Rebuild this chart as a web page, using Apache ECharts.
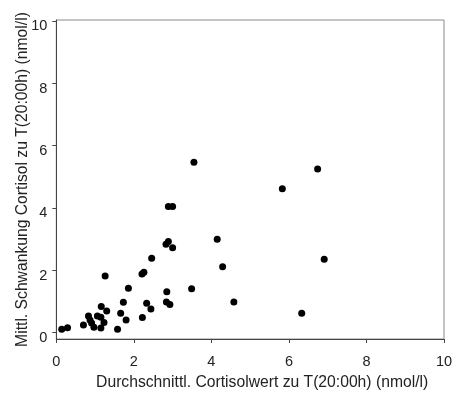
<!DOCTYPE html>
<html>
<head>
<meta charset="utf-8">
<script src="https://cdn.jsdelivr.net/npm/echarts@6/dist/echarts.min.js"></script>
<style>
  html, body { margin: 0; padding: 0; background: #fff; }
  #chart { width: 454px; height: 396px; }
</style>
</head>
<body>
<div id="chart"></div>
<script>
// Mean evening cortisol (x) vs. mean fluctuation (y), nmol/l
const meanCortisol = [
  0.14, 0.29, 0.70, 0.83, 0.87, 0.91, 0.97, 1.06, 1.15, 1.16,
  1.30, 1.23, 1.15, 1.26, 1.58, 1.66, 1.73, 1.80, 1.86, 2.22,
  2.21, 2.26, 2.33, 2.44, 2.46, 2.85, 2.84, 2.93, 2.83, 2.89,
  3.00, 2.89, 3.00, 3.55, 4.15, 4.29, 3.49, 4.58, 5.83, 6.74,
  6.91, 6.33
];
const meanFluctuation = [
  0.10, 0.15, 0.24, 0.53, 0.40, 0.30, 0.17, 0.53, 0.49, 0.83,
  0.69, 0.32, 0.14, 1.81, 0.10, 0.62, 0.97, 0.40, 1.42, 0.48,
  1.88, 1.93, 0.94, 0.75, 2.38, 1.31, 0.98, 0.90, 2.83, 2.92,
  2.72, 4.04, 4.04, 5.46, 2.99, 2.11, 1.40, 0.98, 4.61, 5.25,
  2.35, 0.62
];
const tickValues = [0, 2, 4, 6, 8, 10];
const xTitle = 'Durchschnittl. Cortisolwert zu T(20:00h) (nmol/l)';
const yTitle = 'Mittl. Schwankung Cortisol zu T(20:00h) (nmol/l)';

const points = meanCortisol.map((x, i) => [x, meanFluctuation[i]]);

const FONT = 'Liberation Sans, Arial, sans-serif';
const titleStyle = { fontFamily: FONT, fontSize: 15.7, color: '#222' };
const tickStyle = { fontFamily: FONT, fontSize: 14.5, color: '#222' };

const chart = echarts.init(document.getElementById('chart'), null, { renderer: 'canvas' });
chart.setOption({
  animation: false,
  backgroundColor: '#fff',
  grid: {
    left: 56.3, right: 10, top: 20, bottom: 57,
    outerBoundsMode: 'none', containLabel: false,
    show: true, borderColor: '#8a8a8a', borderWidth: 1, backgroundColor: 'transparent'
  },
  xAxis: {
    type: 'value', min: 0, max: 10, interval: 2,
    name: xTitle, nameLocation: 'middle', nameGap: 36, nameMoveOverlap: false,
    nameTextStyle: Object.assign({ padding: [0, 0, 0, 24] }, titleStyle),
    axisLine: { show: true, onZero: false, lineStyle: { color: '#444', width: 1 } },
    axisTick: { show: true, inside: false, length: 4, lineStyle: { color: '#444' } },
    axisLabel: Object.assign({ margin: 15 }, tickStyle),
    splitLine: { show: false }
  },
  yAxis: {
    type: 'value', min: -0.21, max: 10.03,
    name: yTitle, nameLocation: 'middle', nameGap: 26, nameMoveOverlap: false,
    nameTextStyle: titleStyle,
    axisLine: { show: true, onZero: false, lineStyle: { color: '#444', width: 1 } },
    axisTick: { show: true, inside: false, length: 4, customValues: tickValues, lineStyle: { color: '#444' } },
    axisLabel: Object.assign({ margin: 9, customValues: tickValues, verticalAlign: 'top', lineHeight: 11 }, tickStyle),
    splitLine: { show: false }
  },
  series: [{
    type: 'scatter',
    data: points,
    symbol: 'circle',
    symbolSize: 7,
    itemStyle: { color: '#000', opacity: 1 }
  }]
});
</script>
</body>
</html>
